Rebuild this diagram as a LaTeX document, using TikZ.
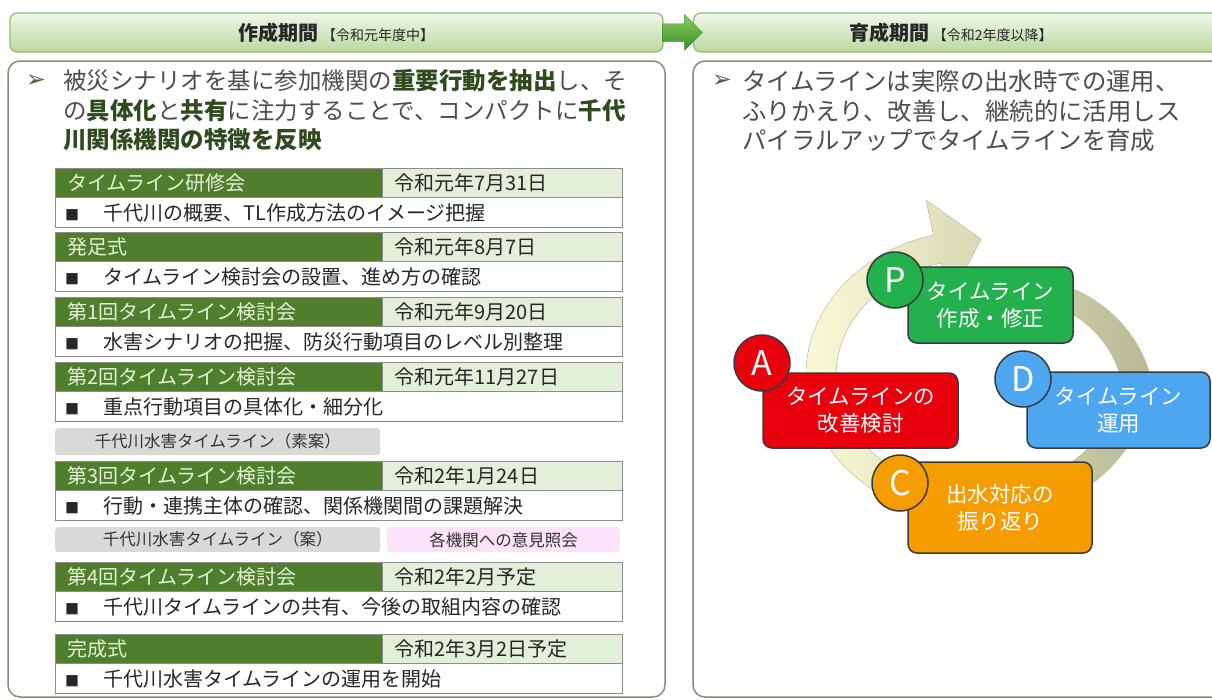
\documentclass[tikz,border=0pt]{standalone}
\usepackage{fontspec}
\setmainfont{Noto Sans CJK JP}
\newfontfamily\dingfont{DejaVu Sans}
\usetikzlibrary{positioning,shapes.arrows}
\usepackage{xcolor}
\definecolor{hdrtop}{HTML}{F0F7E8}
\definecolor{hdrbot}{HTML}{B9D9A0}
\definecolor{hdrline}{HTML}{8CBE70}
\definecolor{pnlline}{HTML}{878C75}
\definecolor{ttlgreen}{HTML}{4F7E2C}
\definecolor{ttltext}{HTML}{E4F1D6}
\definecolor{dtgreen}{HTML}{E3EFD8}
\definecolor{cellline}{HTML}{8C8C8C}
\definecolor{notegray}{HTML}{D9D9D9}
\definecolor{notepink}{HTML}{FCE3F9}
\definecolor{txtgray}{HTML}{4D4D4D}
\definecolor{txtbold}{HTML}{2F4A1E}
\definecolor{arwlight}{HTML}{86CC62}
\definecolor{arwdark}{HTML}{3E8E25}
\definecolor{ringcream}{HTML}{FAFAD6}
\definecolor{ringkhaki}{HTML}{B9B995}
\definecolor{pgreen}{HTML}{23B14D}
\definecolor{ared}{HTML}{E8000C}
\definecolor{dblue}{HTML}{4DA6F0}
\definecolor{corange}{HTML}{F59D00}
\definecolor{stpline}{HTML}{3A3A3A}
\newcommand{\fsz}[2]{\fontsize{#1}{#2}\selectfont}
\newcommand{\kw}[1]{{\bfseries\color{txtbold}#1}}
\newcommand{\blk}{{\fsz{14}{14}■}\hspace{24pt}}
\tikzset{
    hdrsty/.style={draw=hdrline,line width=1.2pt,rounded corners=7pt,top color=hdrtop,bottom color=hdrbot,minimum height=39pt,inner sep=0pt},
    hdrtxtsty/.style={font=\fsz{20}{20},text=black!85},
    arwsty/.style={single arrow,top color=arwlight,bottom color=arwdark,draw=arwdark,line width=0.5pt,minimum height=40pt,inner xsep=0pt,inner ysep=8.5pt,single arrow head extend=9pt,single arrow head indent=0pt},
    pnlsty/.style={draw=pnlline,line width=1.5pt,rounded corners=12pt},
    bltsty/.style={font=\dingfont\fsz{24}{24},text=txtbold!85},
    lnsty/.style={anchor=west,inner sep=0pt,text=txtgray},
    ttlsty/.style={draw=cellline,fill=ttlgreen,text=ttltext,minimum height=29pt,text width=303pt,inner xsep=12pt,inner ysep=0pt,align=left,anchor=north west,font=\fsz{20}{24}},
    dtsty/.style={draw=cellline,fill=dtgreen,text=black!85,minimum height=29pt,text width=216pt,inner xsep=12pt,inner ysep=0pt,align=left,anchor=west,font=\fsz{20}{24}},
    dscsty/.style={draw=cellline,fill=white,text=black!85,minimum height=30pt,text width=547pt,inner xsep=10pt,inner ysep=0pt,align=left,anchor=north west,font=\fsz{20}{24}},
    notesty/.style={rounded corners=3pt,inner sep=0pt,anchor=north west,text=black!80,font=\fsz{16.5}{20}},
    ringsty/.style={left color=ringcream,right color=ringkhaki,draw=ringkhaki!70,line width=0.5pt},
    stpsty/.style={draw=stpline,line width=1.5pt,rounded corners=9pt,text=white,align=center,font=\fsz{21.5}{27}},
    ltrsty/.style={circle,draw=stpline,line width=1.5pt,minimum size=56pt,inner sep=0pt,text=white,font=\fsz{34}{34}},
}
% #1 name, #2 top, #3 title, #4 date, #5 description
\newcommand{\tlrow}[5]{%
    \node[ttlsty] (#1t) at (55,#2) {#3};
    \node[dtsty] (#1d) at (#1t.east) {#4};
    \node[dscsty] (#1s) at (#1t.south west) {\blk #5};
}

\begin{document}
\begin{tikzpicture}[x=1pt,y=-1pt]
\useasboundingbox (0,0) rectangle (1212,699);

% headers
\node[hdrsty,minimum width=653pt] (lhdr) at (336.5,32.5) {};
\node[hdrsty,minimum width=530pt,anchor=west] (rhdr) at (693,32.5) {};
\node[hdrtxtsty] (lhdrtxt) at (lhdr.center) {\textbf{作成期間}\,{\fsz{14}{14}【令和元年度中】}};
\node[hdrtxtsty] (rhdrtxt) at (951,32.5) {\textbf{育成期間}\,{\fsz{14}{14}【令和2年度以降】}};
\node[arwsty] (harw) at (678,32.5) {};

% panels
\draw[pnlsty] (8,61) rectangle (665,697);
\draw[pnlsty] (693,61) rectangle (1230,697);

% left panel text
\node[bltsty] (lblt) at (36,81) {➢};
\node[lnsty,font=\fsz{23.5}{28}] (lt1) at (63,81) {被災シナリオを基に参加機関の\kw{重要行動を抽出}し、そ};
\node[lnsty,font=\fsz{23.5}{28}] (lt2) at (63,111) {の\kw{具体化}と\kw{共有}に注力することで、コンパクトに\kw{千代}};
\node[lnsty,font=\fsz{23.5}{28}] (lt3) at (63,140) {\kw{川関係機関の特徴を反映}};

% timeline
\tlrow{ra}{168}{タイムライン研修会}{令和元年7月31日}{千代川の概要、TL作成方法のイメージ把握}
\tlrow{rb}{232}{発足式}{令和元年8月7日}{タイムライン検討会の設置、進め方の確認}
\tlrow{rc}{297}{第1回タイムライン検討会}{令和元年9月20日}{水害シナリオの把握、防災行動項目のレベル別整理}
\tlrow{rd}{362}{第2回タイムライン検討会}{令和元年11月27日}{重点行動項目の具体化・細分化}
\node[notesty,fill=notegray,minimum width=325pt,minimum height=27pt] (nsoan) at (55,428) {千代川水害タイムライン（素案）};
\tlrow{re}{461}{第3回タイムライン検討会}{令和2年1月24日}{行動・連携主体の確認、関係機関間の課題解決}
\node[notesty,fill=notegray,minimum width=325pt,minimum height=25pt] (nan) at (55,527) {千代川水害タイムライン（案）};
\node[notesty,fill=notepink,minimum width=233pt,minimum height=25pt] (nshokai) at (387,527) {各機関への意見照会};
\tlrow{rf}{562}{第4回タイムライン検討会}{令和2年2月予定}{千代川タイムラインの共有、今後の取組内容の確認}
\tlrow{rg}{634}{完成式}{令和2年3月2日予定}{千代川水害タイムラインの運用を開始}

% right panel text
\node[bltsty] (rblt) at (722,81) {➢};
\node[lnsty,font=\fsz{24.4}{29}] (rt1) at (742,81) {タイムラインは実際の出水時での運用、};
\node[lnsty,font=\fsz{24.4}{29}] (rt2) at (742,111) {ふりかえり、改善し、継続的に活用しス};
\node[lnsty,font=\fsz{24.4}{29}] (rt3) at (742,140) {パイラルアップでタイムラインを育成};

% cycle ring
\fill[ringsty] plot[domain=50:-255,samples=90] ({978+172*(1-0.004*max(0,\x))*cos(\x)},{375-145*(1-0.004*max(0,\x))*sin(\x)})
    -- (926,200) -- (981,239) -- (950,300)
    -- plot[domain=-255:50,samples=90] ({978+142*(1-0.004*max(0,\x))*cos(\x)},{375-116*(1-0.004*max(0,\x))*sin(\x)}) -- cycle;

% PDCA
\node[stpsty,fill=pgreen,minimum width=165pt,minimum height=76pt] (pbox) at (990.5,305) {タイムライン\\作成・修正};
\node[stpsty,fill=ared,minimum width=195pt,minimum height=75pt] (abox) at (860.5,410.5) {タイムラインの\\改善検討};
\node[stpsty,fill=dblue,minimum width=183pt,minimum height=76pt] (dbox) at (1118.5,410) {タイムライン\\運用};
\node[stpsty,fill=corange,minimum width=184pt,minimum height=91pt] (cbox) at (1000,507.5) {出水対応の\\振り返り};
\node[ltrsty,fill=pgreen] (pltr) at (895,280) {P};
\node[ltrsty,fill=ared] (altr) at (762,363) {A};
\node[ltrsty,fill=dblue] (dltr) at (1023,379) {D};
\node[ltrsty,fill=corange] (cltr) at (900,483) {C};
\end{tikzpicture}
\end{document}
